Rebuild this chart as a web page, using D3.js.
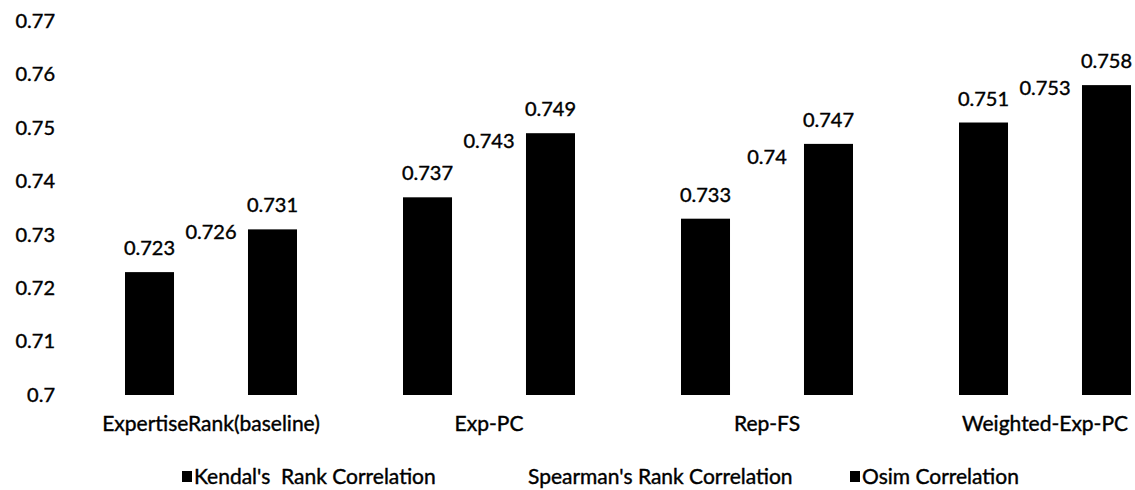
<!DOCTYPE html>
<html>
<head>
<meta charset="utf-8">
<script src="https://cdn.jsdelivr.net/npm/d3@7/dist/d3.min.js"></script>
<style>
  html, body { margin: 0; padding: 0; background: #fff; }
  svg { display: block; }
  text { font-family: Lato, "Open Sans", sans-serif; fill: #000; stroke: #000; stroke-width: 0.4px; }
</style>
</head>
<body>
<svg id="chart" width="1135" height="490"></svg>
<script>
// Methods compared
const categories = ["ExpertiseRank(baseline)", "Exp-PC", "Rep-FS", "Weighted-Exp-PC"];
// Series names as shown in the legend
const seriesNames = ["Kendal's  Rank Correlation", "Spearman's Rank Correlation", "Osim Correlation"];
// Correlation values per method
const kendall  = [0.723, 0.737, 0.733, 0.751];
const spearman = [0.726, 0.743, 0.740, 0.753];
const osim     = [0.731, 0.749, 0.747, 0.758];
// Y axis ticks
const yTicks = [0.7, 0.71, 0.72, 0.73, 0.74, 0.75, 0.76, 0.77];
const seriesFill = ["#000", "#fff", "#000"];

const seriesValues = [kendall, spearman, osim];
const svg = d3.select("#chart");

const y = d3.scaleLinear().domain([0.7, 0.77]).range([395, 21]);
const x0 = d3.scaleBand().domain(categories).range([72, 1184]).padding(0);
const groupWidth = 172;
const x1 = d3.scaleBand().domain(d3.range(3)).range([0, groupWidth]).paddingInner(0.203).paddingOuter(0);
const fmt = d => String(+(+d).toFixed(3));

// Y tick labels (no axis line, no gridlines)
const yAxis = d3.axisLeft(y).tickValues(yTicks).tickSize(0).tickPadding(0).tickFormat(fmt);
const gy = svg.append("g").attr("transform", "translate(55,0)").call(yAxis);
gy.select(".domain").remove();
gy.selectAll("text").attr("font-family", null).attr("font-size", null)
  .style("font-size", "20px").attr("fill", "#000");

// Bars and value labels
const groups = svg.selectAll("g.grp").data(categories).join("g")
  .attr("class", "grp")
  .attr("transform", d => `translate(${x0(d) + x0.bandwidth() / 2 - groupWidth / 2},0)`);

groups.each(function(cat, ci) {
  const g = d3.select(this);
  seriesValues.forEach((vals, si) => {
    const v = vals[ci];
    g.append("rect")
      .attr("x", x1(si))
      .attr("y", y(v))
      .attr("width", x1.bandwidth())
      .attr("height", y(0.7) - y(v))
      .attr("fill", seriesFill[si]);
    g.append("text")
      .attr("x", x1(si) + x1.bandwidth() / 2)
      .attr("y", y(v) - 24)
      .attr("dy", "0.35em")
      .attr("text-anchor", "middle")
      .style("font-size", "20px")
      .text(fmt(v));
  });
});

// Category labels
const xAxis = d3.axisBottom(x0).tickSize(0).tickPadding(0);
const gx = svg.append("g").attr("transform", "translate(0,424)").call(xAxis);
gx.select(".domain").remove();
gx.selectAll("text").attr("font-family", null).attr("font-size", null)
  .attr("dy", "0.35em").attr("y", 0)
  .style("font-size", "21px").attr("fill", "#000");

// Legend
const legendX = [182, 516, 850];
const legend = svg.selectAll("g.leg").data(seriesNames).join("g")
  .attr("class", "leg")
  .attr("transform", (d, i) => `translate(${legendX[i]},477)`);
legend.append("rect").attr("x", 0).attr("y", -6).attr("width", 10).attr("height", 11)
  .attr("fill", (d, i) => seriesFill[i]);
legend.append("text").attr("x", 12).attr("y", 0).attr("dy", "0.35em")
  .style("font-size", "21px")
  .style("white-space", "pre")
  .text(d => d);
</script>
</body>
</html>
